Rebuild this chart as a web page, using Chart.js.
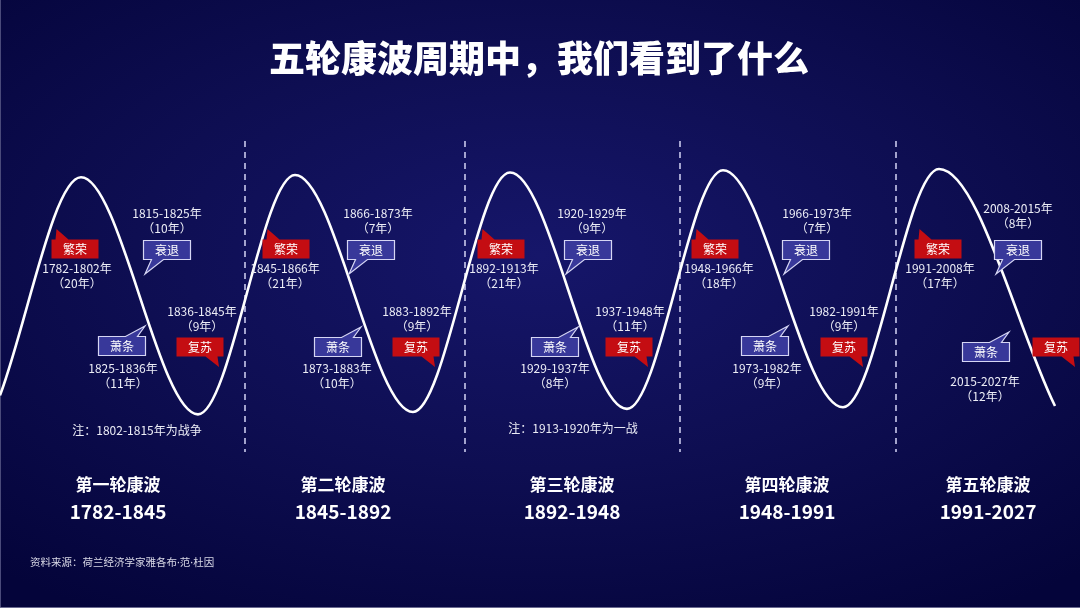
<!DOCTYPE html>
<html><head><meta charset="utf-8">
<script src="https://cdn.jsdelivr.net/npm/chart.js@4/dist/chart.umd.min.js"></script>
<style>
html,body{margin:0;padding:0;background:#08083c;}
#wrap{position:relative;width:1080px;height:608px;overflow:hidden;
background: radial-gradient(ellipse 75% 70% at 50% 42%, #16166a 0%, #0e0e52 50%, #04043a 100%);}
#wrap:after{content:"";position:absolute;left:0;right:0;bottom:0;height:1px;background:#6a6a90;}
#wrap:before{content:"";position:absolute;left:0;top:0;bottom:0;width:1px;background:#4a4a7a;}
canvas{position:absolute;left:0;top:0;}
</style></head><body><div id="wrap"><canvas id="c" width="1080" height="608"></canvas></div>
<script>
// ---------- data ----------
const title = '五轮康波周期中，我们看到了什么';
// wave turning points: phase position and activity level (peaks ~100, troughs ~0)
const waveX = [0, 81, 198, 295, 413, 510, 627, 723, 843, 939, 1055];
const waveLevel = [7, 99, -1, 100, 0, 101, 1.3, 102, 2, 102.5, 2.5];
const boundaryX = [245, 465, 680, 896];
const waveNames = ['第一轮康波','第二轮康波','第三轮康波','第四轮康波','第五轮康波'];
const wavePeriods = ['1782-1845','1845-1892','1892-1948','1948-1991','1991-2027'];
const phaseNames = ['繁荣','衰退','萧条','复苏'];
const prosperityYears = ['1782-1802年','1845-1866年','1892-1913年','1948-1966年','1991-2008年'];
const prosperityDur = ['（20年）','（21年）','（21年）','（18年）','（17年）'];
const recessionYears = ['1815-1825年','1866-1873年','1920-1929年','1966-1973年','2008-2015年'];
const recessionDur = ['（10年）','（7年）','（9年）','（7年）','（8年）'];
const depressionYears = ['1825-1836年','1873-1883年','1929-1937年','1973-1982年','2015-2027年'];
const depressionDur = ['（11年）','（10年）','（8年）','（9年）','（12年）'];
const recoveryYears = ['1836-1845年','1883-1892年','1937-1948年','1982-1991年', null];
const recoveryDur = ['（9年）','（9年）','（11年）','（9年）', null];
const notes = ['注：1802-1815年为战争', null, '注：1913-1920年为一战', null, null];
const source = '资料来源：荷兰经济学家雅各布·范·杜因';

// ---------- layout (positions in x-scale units / pixels) ----------
const L = [
  {pb:[75,249], pt:77,  rt:[167,213], rb:[167,250], db:[122,346], dt:[123,368], ct:[202,311], cb:[200,347], note:[137,430], label:118},
  {pb:[286,249],pt:285, rt:[378,213], rb:[371,250], db:[338,347], dt:[337,368], ct:[417,311], cb:[416,347], note:null, label:343},
  {pb:[501,249],pt:504, rt:[592,213], rb:[588,250], db:[555,347], dt:[555,368], ct:[630,311], cb:[629,347], note:[573,428], label:572},
  {pb:[715,249],pt:719, rt:[817,213], rb:[806,250], db:[765,346], dt:[767,368], ct:[844,311], cb:[844,347], note:null, label:787},
  {pb:[938,249],pt:940, rt:[1018,208],rb:[1018,250],db:[986,352], dt:[985,381], ct:null,      cb:[1056,347],note:null, label:988}
];
const FONT = '"Noto Sans CJK SC","Noto Sans",sans-serif';
const RED = '#c40d12', BLUE = '#38389a', BLUE_EDGE = '#d6d6f4', TXT = '#ecedf6';

function callout(ctx, cx, cy, fill, edge, side, b1, b2, ax, ay, text){
  const w = 47, h = 19;
  const l = cx - w/2, r = cx + w/2, t = cy - h/2, b = cy + h/2;
  ctx.beginPath();
  if (side === 'top'){
    ctx.moveTo(l, t); ctx.lineTo(b1, t); ctx.lineTo(ax, ay); ctx.lineTo(b2, t);
    ctx.lineTo(r, t); ctx.lineTo(r, b); ctx.lineTo(l, b); ctx.closePath();
  } else {
    ctx.moveTo(l, t); ctx.lineTo(r, t); ctx.lineTo(r, b); ctx.lineTo(b2, b);
    ctx.lineTo(ax, ay); ctx.lineTo(b1, b); ctx.lineTo(l, b); ctx.closePath();
  }
  ctx.fillStyle = fill; ctx.fill();
  if (edge){ ctx.strokeStyle = edge; ctx.lineWidth = 1.2; ctx.stroke(); }
  ctx.fillStyle = '#ffffff';
  ctx.font = '12px ' + FONT;
  ctx.textAlign = 'center'; ctx.textBaseline = 'middle';
  ctx.fillText(text, cx, cy + 0.5);
}

const decor = {
  id: 'decor',
  beforeDatasetsDraw(chart){
    const ctx = chart.ctx, xs = chart.scales.x;
    ctx.save();
    ctx.strokeStyle = '#c9c9ec'; ctx.lineWidth = 1.6; ctx.setLineDash([6,5]);
    boundaryX.forEach(v => {
      const px = xs.getPixelForValue(v);
      ctx.beginPath(); ctx.moveTo(px, 141); ctx.lineTo(px, 452); ctx.stroke();
    });
    ctx.restore();
  },
  afterDatasetsDraw(chart){
    const ctx = chart.ctx, xs = chart.scales.x;
    const X = v => xs.getPixelForValue(v);
    ctx.save();
    // title
    ctx.fillStyle = '#ffffff'; ctx.textAlign = 'center'; ctx.textBaseline = 'middle';
    ctx.font = '900 36px ' + FONT;
    ctx.fillText(title, 539, 58);

    for (let i = 0; i < 5; i++){
      const g = L[i];
      // prosperity
      let cx = X(g.pb[0]), cy = g.pb[1];
      callout(ctx, cx, cy, RED, null, 'top', cx-23.5+4, cx-23.5+17, cx-18.5, cy-20, phaseNames[0]);
      ctx.fillStyle = TXT; ctx.font = '12px ' + FONT; ctx.textAlign='center'; ctx.textBaseline='middle';
      ctx.fillText(prosperityYears[i], X(g.pt), 268);
      ctx.fillText(prosperityDur[i], X(g.pt), 283);
      // recession
      ctx.fillText(recessionYears[i], X(g.rt[0]), g.rt[1]);
      ctx.fillText(recessionDur[i], X(g.rt[0]), g.rt[1] + 15);
      cx = X(g.rb[0]); cy = g.rb[1];
      callout(ctx, cx, cy, BLUE, BLUE_EDGE, 'bottom', cx-23.5+8, cx-23.5+20, cx-22, cy+24, phaseNames[1]);
      // depression
      cx = X(g.db[0]); cy = g.db[1];
      callout(ctx, cx, cy, BLUE, BLUE_EDGE, 'top', cx+23.5-20, cx+23.5-8, cx+23, cy-20, phaseNames[2]);
      ctx.fillStyle = TXT; ctx.font = '12px ' + FONT; ctx.textAlign='center'; ctx.textBaseline='middle';
      ctx.fillText(depressionYears[i], X(g.dt[0]), g.dt[1]);
      ctx.fillText(depressionDur[i], X(g.dt[0]), g.dt[1] + 15);
      // recovery
      if (recoveryYears[i]){
        ctx.fillText(recoveryYears[i], X(g.ct[0]), g.ct[1]);
        ctx.fillText(recoveryDur[i], X(g.ct[0]), g.ct[1] + 15);
      }
      cx = X(g.cb[0]); cy = g.cb[1];
      callout(ctx, cx, cy, RED, null, 'bottom', cx+23.5-18, cx+23.5-6, cx+19, cy+20, phaseNames[3]);
      // note
      if (notes[i]){
        ctx.fillStyle = TXT; ctx.font = '12px ' + FONT; ctx.textAlign='center'; ctx.textBaseline='middle';
        ctx.fillText(notes[i], X(g.note[0]), g.note[1]);
      }
      // wave name & period
      ctx.fillStyle = '#ffffff'; ctx.textAlign='center'; ctx.textBaseline='middle';
      ctx.font = 'bold 17px ' + FONT;
      ctx.fillText(waveNames[i], X(g.label), 485);
      ctx.font = 'bold 19px ' + FONT;
      ctx.fillText(wavePeriods[i], X(g.label), 512);
    }
    // source
    ctx.fillStyle = '#d8d8e6'; ctx.font = '10.5px "Noto Sans","Noto Sans CJK SC",sans-serif';
    ctx.textAlign='left'; ctx.textBaseline='middle';
    ctx.fillText(source, 30, 563);
    ctx.restore();
  }
};

new Chart(document.getElementById('c'), {
  type: 'line',
  data: {
    datasets: [{
      data: waveX.map((x, i) => ({x, y: waveLevel[i]})),
      borderColor: '#ffffff',
      borderWidth: 2.6,
      pointRadius: 0,
      fill: false,
      cubicInterpolationMode: 'monotone'
    }]
  },
  options: {
    responsive: false,
    animation: false,
    events: [],
    layout: { padding: 0 },
    plugins: { legend: { display: false }, tooltip: { enabled: false } },
    scales: {
      x: { type: 'linear', min: 0, max: 1080, display: false },
      y: { type: 'linear', min: -82.7, max: 173.8, display: false }
    }
  },
  plugins: [decor]
});
</script>
</body></html>
